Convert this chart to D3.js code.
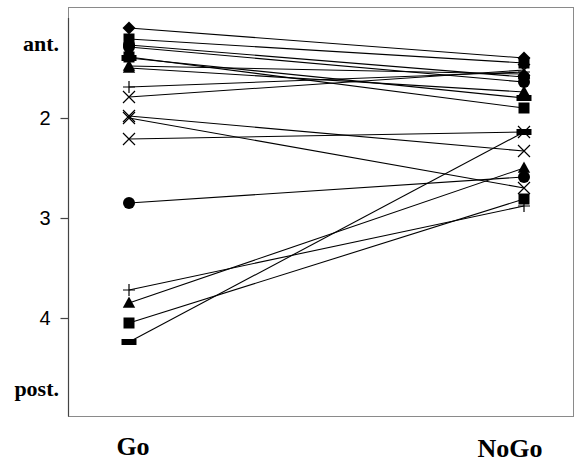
<!DOCTYPE html>
<html>
<head>
<meta charset="utf-8">
<script src="https://cdn.jsdelivr.net/npm/d3@7/dist/d3.min.js"></script>
<style>
  html, body { margin: 0; padding: 0; background: #fff; }
  svg { display: block; }
</style>
</head>
<body>
<svg id="chart" width="576" height="463"></svg>
<script>
// Conditions along the horizontal axis
const conditions = ["Go", "NoGo"];

// One symbol per subject (paired Go / NoGo positions)
const subjectSymbols = [
  "diamond", "square", "circle", "circle", "square", "bar",
  "triangle", "triangle", "plus", "x", "x", "x", "x",
  "circle", "plus", "triangle", "square", "bar"
];

// Position values per subject in each condition
const goValues = [
  1.10, 1.21, 1.27, 1.29, 1.39, 1.40,
  1.48, 1.50, 1.69, 1.79, 1.98, 2.00, 2.21,
  2.85, 3.72, 3.85, 4.05, 4.24
];
const nogoValues = [
  1.40, 1.45, 1.59, 1.64, 1.90, 1.80,
  1.56, 1.74, 1.54, 1.52, 2.33, 2.70, 2.14,
  2.59, 2.88, 2.50, 2.81, 2.14
];

// Axis labels
const numericTicks = [2, 3, 4];
const endLabels = [{ v: 1.25, text: "ant." }, { v: 4.7, text: "post." }];

const svg = d3.select("#chart");

const frame = { left: 68, right: 574, top: 7, bottom: 416 };

const y = d3.scaleLinear().domain([1, 5]).range([18, 418]);
const x = d3.scalePoint().domain(conditions).range([129, 524]);

// Plot frame
svg.append("rect")
  .attr("x", frame.left + 0.5).attr("y", frame.top + 0.5)
  .attr("width", frame.right - frame.left - 1)
  .attr("height", frame.bottom - frame.top)
  .attr("fill", "none").attr("stroke", "#8a8a8a").attr("stroke-width", 1);

// Left axis with numeric ticks
const axis = d3.axisLeft(y).tickValues(numericTicks).tickSize(8).tickPadding(10)
  .tickFormat(d3.format("d"));
const gAxis = svg.append("g").attr("transform", `translate(${frame.left + 0.5},0)`).call(axis);
gAxis.select(".domain").remove();
gAxis.append("line")
  .attr("x1", 0).attr("x2", 0)
  .attr("y1", y(1)).attr("y2", frame.bottom + 0.5)
  .attr("stroke", "#444").attr("stroke-width", 1.2);
gAxis.selectAll(".tick line").attr("stroke", "#444").attr("stroke-width", 1.2);
gAxis.selectAll(".tick text")
  .attr("fill", "#000")
  .style("font-family", "'Liberation Sans', Arial, sans-serif")
  .style("font-size", "20px");

// Anterior / posterior end labels
svg.selectAll("text.end")
  .data(endLabels)
  .join("text")
  .attr("class", "end")
  .attr("x", 59)
  .attr("y", d => y(d.v))
  .attr("dy", "0.35em")
  .attr("text-anchor", "end")
  .style("font-family", "'Liberation Serif', 'Times New Roman', serif")
  .style("font-weight", "bold")
  .style("font-size", "22px")
  .text(d => d.text);

// Condition labels
const condLabelPos = { Go: [133, 455], NoGo: [510, 457] };
svg.selectAll("text.cond")
  .data(conditions)
  .join("text")
  .attr("class", "cond")
  .attr("x", d => condLabelPos[d][0])
  .attr("y", d => condLabelPos[d][1])
  .attr("text-anchor", "middle")
  .style("font-family", "'Liberation Serif', 'Times New Roman', serif")
  .style("font-weight", "bold")
  .style("font-size", "26px")
  .text(d => d);

const subjects = subjectSymbols.map((s, i) => ({ symbol: s, go: goValues[i], nogo: nogoValues[i] }));

// Connecting lines
svg.append("g").selectAll("line")
  .data(subjects)
  .join("line")
  .attr("x1", x("Go")).attr("y1", d => y(d.go))
  .attr("x2", x("NoGo")).attr("y2", d => y(d.nogo))
  .attr("stroke", "#000").attr("stroke-width", 1.1);

// Marker shapes
const shapes = {
  diamond: "M0,-6.5L6.5,0L0,6.5L-6.5,0Z",
  square: "M-5.5,-5.5H5.5V5.5H-5.5Z",
  triangle: "M0,-6.5L6.2,4.8H-6.2Z",
  bar: "M-7.5,-3H7.5V3H-7.5Z",
  plus: "M-6,0H6M0,-6V6",
  x: "M-6,-6L6,6M-6,6L6,-6"
};

const points = [];
subjects.forEach(d => {
  points.push({ symbol: d.symbol, cx: x("Go"), v: d.go });
  points.push({ symbol: d.symbol, cx: x("NoGo"), v: d.nogo });
});

const gPts = svg.append("g");
points.forEach(p => {
  const t = `translate(${p.cx},${y(p.v)})`;
  if (p.symbol === "circle") {
    gPts.append("circle").attr("transform", t).attr("r", 6).attr("fill", "#000");
  } else if (p.symbol === "plus" || p.symbol === "x") {
    gPts.append("path").attr("transform", t).attr("d", shapes[p.symbol])
      .attr("fill", "none").attr("stroke", "#000").attr("stroke-width", 1.2);
  } else {
    gPts.append("path").attr("transform", t).attr("d", shapes[p.symbol]).attr("fill", "#000");
  }
});
</script>
</body>
</html>
